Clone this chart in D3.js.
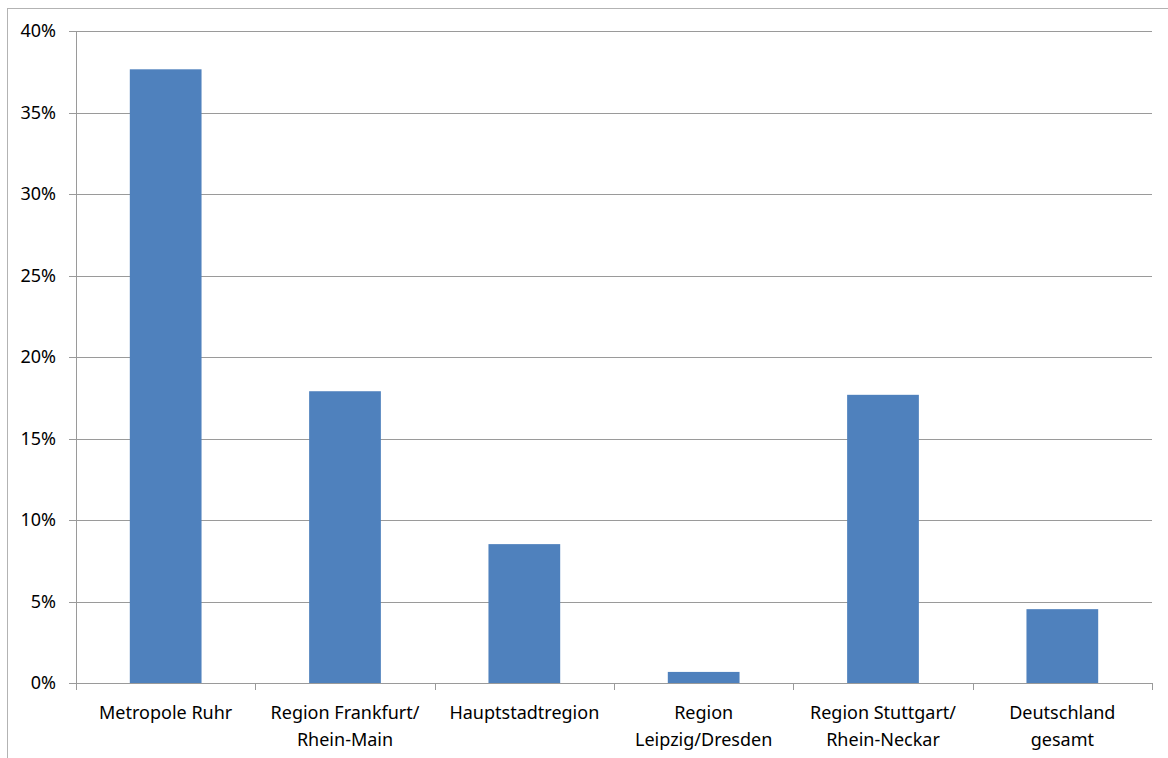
<!DOCTYPE html>
<html>
<head>
<meta charset="utf-8">
<script src="https://cdn.jsdelivr.net/npm/d3@7"></script>
<style>
  body { margin: 0; background: #fff; }
  svg { display: block; }
  text { font-family: "Noto Sans", "Open Sans", sans-serif; fill: #000; }
</style>
</head>
<body>
<script>
// categories (line breaks as in the chart)
const regions = [
    ["Metropole Ruhr"],
    ["Region Frankfurt/", "Rhein-Main"],
    ["Hauptstadtregion"],
    ["Region", "Leipzig/Dresden"],
    ["Region Stuttgart/", "Rhein-Neckar"],
    ["Deutschland", "gesamt"]
]
// share in percent
const shares = [37.65, 17.9, 8.52, 0.68, 17.68, 4.53]
const yTicks = [0, 5, 10, 15, 20, 25, 30, 35, 40]

const m = { width: 1168, height: 758 }
const plot = { left: 76, right: 1152, top: 31, bottom: 683 }

const svg = d3.select("body").append("svg")
    .attr("width", m.width)
    .attr("height", m.height)

// outer frame
svg.append("rect")
    .attr("x", 7.5).attr("y", 8.5)
    .attr("width", m.width + 10).attr("height", m.height + 10)
    .attr("fill", "none").attr("stroke", "#b3b3b3")

const x = d3.scaleBand()
    .domain(d3.range(regions.length))
    .range([plot.left, plot.right])

const y = d3.scaleLinear()
    .domain([0, 40])
    .range([plot.bottom, plot.top])

// gridlines
svg.append("g").selectAll("line")
    .data(yTicks)
    .enter()
    .append("line")
        .attr("x1", plot.left - 7)
        .attr("x2", plot.right)
        .attr("y1", d => Math.round(y(d)) + 0.5)
        .attr("y2", d => Math.round(y(d)) + 0.5)
        .attr("stroke", "#9a9a9a")

// y labels
svg.append("g").selectAll("text")
    .data(yTicks)
    .enter()
    .append("text")
        .attr("x", 56)
        .attr("y", d => y(d))
        .attr("dy", "0.35em")
        .attr("text-anchor", "end")
        .attr("font-size", 18)
        .text(d => d + "%")

// bars
const barW = x.step() * 0.4
svg.append("g").selectAll("rect")
    .data(shares)
    .enter()
    .append("rect")
        .attr("x", (d, i) => x(i) + (x.step() - barW) / 2)
        .attr("y", d => y(d))
        .attr("width", barW)
        .attr("height", d => y(0) - y(d))
        .attr("fill", "#4f81bd")

// axes lines
svg.append("line")
    .attr("x1", plot.left + 0.5).attr("x2", plot.left + 0.5)
    .attr("y1", plot.top).attr("y2", plot.bottom)
    .attr("stroke", "#9a9a9a")

svg.append("g").selectAll("line")
    .data(d3.range(regions.length + 1))
    .enter()
    .append("line")
        .attr("x1", i => Math.round(plot.left + i * x.step()) + 0.5)
        .attr("x2", i => Math.round(plot.left + i * x.step()) + 0.5)
        .attr("y1", plot.bottom)
        .attr("y2", plot.bottom + 7)
        .attr("stroke", "#9a9a9a")

// category labels
const lbl = svg.append("g").selectAll("text")
    .data(regions)
    .enter()
    .append("text")
        .attr("text-anchor", "middle")
        .attr("font-size", 18)
        .attr("transform", (d, i) => "translate(" + (x(i) + x.step() / 2) + ",719)")

lbl.selectAll("tspan")
    .data(d => d)
    .enter()
    .append("tspan")
        .attr("x", 0)
        .attr("y", (d, j) => j * 27)
        .text(d => d)
</script>
</body>
</html>
